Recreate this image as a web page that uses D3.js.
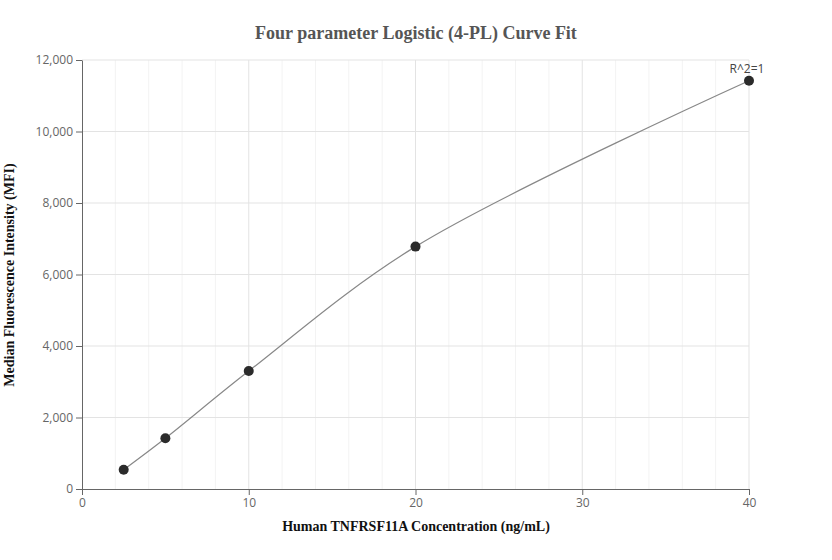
<!DOCTYPE html><html><head><meta charset="utf-8"><script src="https://cdn.jsdelivr.net/npm/d3@7"></script>
<style>body{margin:0;background:#fff}</style></head><body><svg id="c" width="832" height="560"></svg>
<script>
const conc=[2.5,5,10,20,40];
const mfi=[540,1420,3300,6780,11420];
const xTicks=[0,10,20,30,40];
const yTicks=[0,2000,4000,6000,8000,10000,12000];
const svg=d3.select("#c");
const x=d3.scaleLinear().domain([0,40]).range([82,749]);
const y=d3.scaleLinear().domain([0,12000]).range([489,60]);
const g=svg.append("g");
g.selectAll(".mg").data(d3.range(0,41,2).filter(v=>v%10)).join("line").attr("x1",d=>x(d)).attr("x2",d=>x(d)).attr("y1",60).attr("y2",489).attr("stroke","#f3f3f3");
g.selectAll(".xg").data(xTicks.slice(1)).join("line").attr("x1",d=>x(d)).attr("x2",d=>x(d)).attr("y1",60).attr("y2",489).attr("stroke","#e3e3e3");
g.selectAll(".yg").data(yTicks.slice(1)).join("line").attr("x1",82).attr("x2",749).attr("y1",d=>y(d)).attr("y2",d=>y(d)).attr("stroke","#e3e3e3");
const xa=svg.append("g").attr("transform","translate(0,489)").call(d3.axisBottom(x).tickValues(xTicks).tickSize(6).tickSizeOuter(0));
const ya=svg.append("g").attr("transform","translate(82,0)").call(d3.axisLeft(y).tickValues(yTicks).tickFormat(d3.format(",")).tickSize(6).tickSizeOuter(0));
[xa,ya].forEach(a=>{a.selectAll("path,line").attr("stroke","#666");a.selectAll("text").attr("fill","#666").style("font-family","Open Sans, sans-serif").style("font-size","12px");});
svg.append("path").datum(conc.map((c,i)=>[c,mfi[i]])).attr("d",d3.line().x(d=>x(d[0])).y(d=>y(d[1])).curve(d3.curveCatmullRom.alpha(0.5))).attr("fill","none").attr("stroke","#888").attr("stroke-width",1.2);
svg.selectAll(".pt").data(conc).join("circle").attr("cx",d=>x(d)).attr("cy",(d,i)=>y(mfi[i])).attr("r",5).attr("fill","#2b2b2b");
svg.append("text").attr("x",x(40)-2).attr("y",y(mfi[4])-8).attr("text-anchor","middle").attr("fill","#444").style("font-family","Open Sans, sans-serif").style("font-size","12px").text("R^2=1");
svg.append("text").attr("x",416).attr("y",39).attr("text-anchor","middle").attr("fill","#555").style("font-family","Liberation Serif, serif").style("font-weight","bold").style("font-size","18px").text("Four parameter Logistic (4-PL) Curve Fit");
svg.append("text").attr("x",416).attr("y",531).attr("text-anchor","middle").attr("fill","#111").style("font-family","Liberation Serif, serif").style("font-weight","bold").style("font-size","14px").text("Human TNFRSF11A Concentration (ng/mL)");
svg.append("text").attr("transform","translate(14,275) rotate(-90)").attr("text-anchor","middle").attr("fill","#111").style("font-family","Liberation Serif, serif").style("font-weight","bold").style("font-size","14px").text("Median Fluorescence Intensity (MFI)");
</script></body></html>
